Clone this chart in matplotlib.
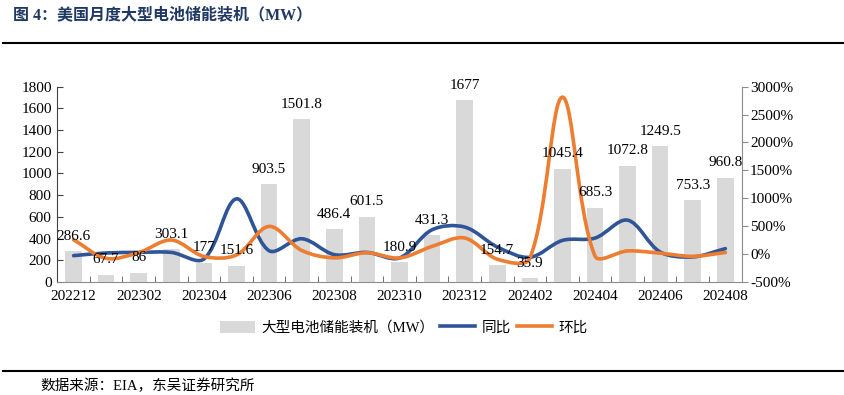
import numpy as np
import matplotlib.pyplot as plt
from matplotlib.path import Path
from matplotlib.patches import PathPatch, Patch
from matplotlib.lines import Line2D

months = ['202212', '202301', '202302', '202303', '202304', '202305', '202306',
          '202307', '202308', '202309', '202310', '202311', '202312', '202401',
          '202402', '202403', '202404', '202405', '202406', '202407', '202408']
# 大型电池储能装机 (MW)
capacity = [286.6, 67.7, 86, 303.1, 177, 151.6, 903.5, 1501.8, 486.4, 601.5,
            180.9, 431.3, 1677, 154.7, 35.9, 1045.4, 685.3, 1072.8, 1249.5,
            753.3, 960.8]
# 同比 (%), 读图估计
yoy = [-28, 20, 30, 30, -88, 990, 60, 275, -10, 30, -70, 436, 485, 128, -58,
       245, 287, 608, 38, -50, 98]
# 环比 (%)
mom = [258, -76, 27, 252, -42, -15, 496, 66, -68, 24, -70, 138, 289, -91, -77,
       2812, -34, 57, 16, -40, 28]

serif = 'Liberation Serif'
cjk = ['Liberation Serif', 'Noto Sans CJK SC']

c_bar = '#D9D9D9'
c_blue = '#2F5597'
c_orange = '#ED7D31'


def smooth_path(axis, xs, ys):
    # 平滑曲线, 在像素坐标里按线段长度调整控制点 (近似 Excel 平滑线)
    p = axis.transData.transform(np.column_stack([xs, ys]).astype(float))
    n = len(p)
    d = np.hypot(*np.diff(p, axis=0).T)
    verts = [p[0]]
    codes = [Path.MOVETO]
    for i in range(n - 1):
        p1, p2 = p[i], p[i + 1]
        if i > 0:
            c1 = p1 + (p2 - p[i - 1]) / 3 * d[i] / (d[i - 1] + d[i])
        else:
            c1 = p1 + (p2 - p1) / 3
        if i + 2 < n:
            c2 = p2 - (p[i + 2] - p1) / 3 * d[i] / (d[i] + d[i + 1])
        else:
            c2 = p2 - (p2 - p1) / 3
        verts += [c1, c2, p2]
        codes += [Path.CURVE4] * 3
    verts = axis.transData.inverted().transform(np.array(verts))
    return Path(verts, codes)


fig = plt.figure(figsize=(8.45, 3.95), dpi=100)
ax = fig.add_axes([0.0678, 0.2861, 0.8099, 0.4944])
x = np.arange(len(months))

ax.bar(x, capacity, width=0.51, color=c_bar, zorder=1)
ax.set_xlim(-0.5, len(months) - 0.5)
ax.set_ylim(0, 1800)
ax.set_yticks(np.arange(0, 1801, 200))
ax.set_xticks(x[::2])
ax.set_xticklabels(months[::2])
ax.set_xticks(np.arange(-0.5, len(months), 1), minor=True)
ax.tick_params(axis='x', which='major', length=0, pad=6)
ax.tick_params(axis='x', which='minor', direction='in', length=4, color='#595959')
ax.tick_params(axis='y', direction='in', length=4, color='#404040', pad=4)
for lab in ax.get_xticklabels() + ax.get_yticklabels():
    lab.set_fontfamily(serif)
    lab.set_fontsize(11)
ax.spines['top'].set_visible(False)
ax.spines['right'].set_visible(False)
ax.spines['left'].set_color('#404040')
ax.spines['bottom'].set_color('#8C8C8C')

ax2 = ax.twinx()
ax2.set_ylim(-500, 3000)
ax2.set_yticks(np.arange(-500, 3001, 500))
ax2.set_yticklabels(['%d%%' % v for v in np.arange(-500, 3001, 500)])
ax2.tick_params(axis='y', direction='out', length=4, color='#8C8C8C', pad=2)
for lab in ax2.get_yticklabels():
    lab.set_fontfamily(serif)
    lab.set_fontsize(11)
for s in ['top', 'left', 'bottom']:
    ax2.spines[s].set_visible(False)
ax2.spines['right'].set_color('#8C8C8C')

ax2.add_patch(PathPatch(smooth_path(ax2, x, yoy), fill=False, edgecolor=c_blue,
                        lw=2.6, capstyle='round', zorder=2))
ax2.add_patch(PathPatch(smooth_path(ax2, x, mom), fill=False, edgecolor=c_orange,
                        lw=2.6, capstyle='round', zorder=3))

# 数据标签
for i, v in enumerate(capacity):
    ax2.annotate('%g' % v, xy=(i, v), xycoords=ax.transData,
                 xytext=(0, 6), textcoords='offset points',
                 ha='center', va='bottom', fontsize=11, fontfamily=serif,
                 zorder=5)

handles = [Patch(facecolor=c_bar, edgecolor='none'),
           Line2D([], [], color=c_blue, lw=2.6),
           Line2D([], [], color=c_orange, lw=2.6)]
fig.legend(handles, ['大型电池储能装机（MW）', '同比', '环比'],
           loc='center', bbox_to_anchor=(0.478, 0.170), ncol=3, frameon=False,
           prop={'family': cjk, 'size': 10.5}, handlelength=2.4,
           handleheight=0.9, handletextpad=0.45, columnspacing=0.4)

fig.text(0.015, 0.962, '图 4：美国月度大型电池储能装机（MW）',
         fontfamily=cjk, fontsize=11.5, fontweight='bold', color='#1F3864',
         va='center', ha='left')
fig.add_artist(Line2D([0.004, 1.0], [0.890, 0.890], color='black', lw=1.5))
fig.add_artist(Line2D([0.004, 1.0], [0.061, 0.061], color='black', lw=1.5))
fig.text(0.048, 0.023, '数据来源：EIA，东吴证券研究所', fontfamily=cjk,
         fontsize=10.5, va='center', ha='left')

plt.savefig('out.png', dpi=100)
